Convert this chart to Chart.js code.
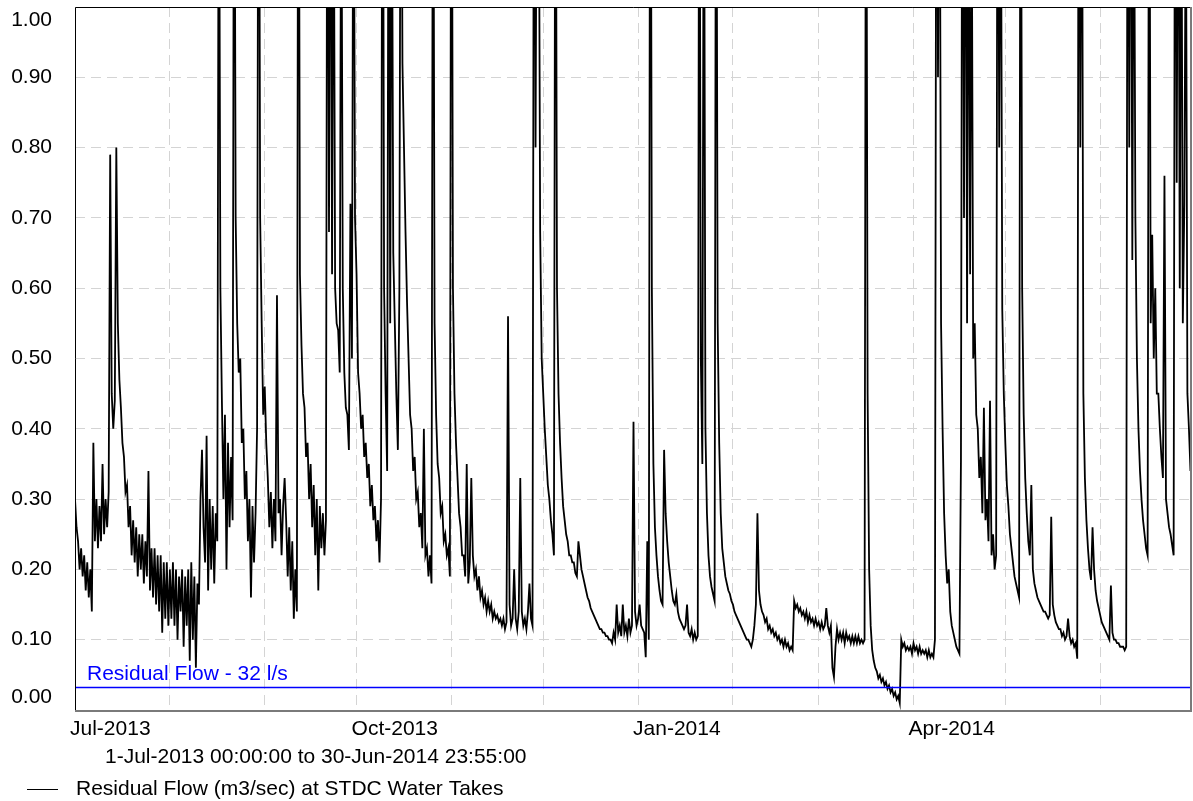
<!DOCTYPE html>
<html>
<head>
<meta charset="utf-8">
<script src="https://cdn.jsdelivr.net/npm/chart.js@4.4.1/dist/chart.umd.min.js"></script>
<style>
  html, body { margin: 0; padding: 0; background: #fff; }
  canvas { display: block; }
</style>
</head>
<body>
<canvas id="flowChart" width="1193" height="801"></canvas>
<script>
// day offsets from 1-Jul-2013 for the first of each month
const monthStartDays = [0, 31, 62, 92, 123, 153, 184, 215, 243, 274, 304, 335]
const tickLabels = ['Jul-2013', '', '', 'Oct-2013', '', '', 'Jan-2014', '', '', 'Apr-2014', '', '']
const yTicks = [0, 0.1, 0.2, 0.3, 0.4, 0.5, 0.6, 0.7, 0.8, 0.9, 1.0]

const residualFlow = 0.032
const residualLabel = 'Residual Flow - 32 l/s'
const seriesLabel = 'Residual Flow (m3/sec) at STDC Water Takes'
const periodLabel = '1-Jul-2013 00:00:00 to 30-Jun-2014 23:55:00'

// flow in m3/sec, read at 00:00 and 12:00 each day
const julFlow = [0.30, 0.26, 0.24, 0.20, 0.23, 0.19, 0.22, 0.17, 0.21, 0.16, 0.20, 0.14, 0.38, 0.24, 0.30, 0.23, 0.29, 0.24, 0.35, 0.25, 0.30, 0.26, 0.31, 0.79, 0.45, 0.40, 0.44, 0.80, 0.55, 0.47, 0.43, 0.38, 0.36, 0.31, 0.32, 0.26, 0.29, 0.22, 0.27, 0.21, 0.26, 0.19, 0.25, 0.20, 0.25, 0.18, 0.24, 0.19, 0.34, 0.17, 0.23, 0.16, 0.23, 0.15, 0.22, 0.14, 0.22, 0.11, 0.21, 0.13, 0.21, 0.12]
const augFlow = [0.20, 0.13, 0.21, 0.12, 0.20, 0.10, 0.19, 0.14, 0.20, 0.09, 0.19, 0.12, 0.20, 0.07, 0.21, 0.10, 0.19, 0.06, 0.18, 0.15, 0.30, 0.37, 0.26, 0.21, 0.39, 0.17, 0.30, 0.20, 0.29, 0.18, 0.28, 0.24, 1.40, 0.60, 0.44, 0.30, 0.42, 0.20, 0.38, 0.26, 0.36, 0.27, 1.50, 0.70, 0.55, 0.48, 0.50, 0.38, 0.40, 0.30, 0.34, 0.24, 0.30, 0.16, 0.29, 0.21, 0.28, 0.40, 1.60, 0.70, 0.55, 0.42]
const sepFlow = [0.46, 0.38, 0.33, 0.26, 0.31, 0.23, 0.30, 0.24, 0.59, 0.28, 0.30, 0.22, 0.29, 0.33, 0.27, 0.19, 0.26, 0.17, 0.24, 0.13, 0.20, 0.14, 1.60, 0.62, 0.52, 0.45, 0.43, 0.36, 0.38, 0.30, 0.35, 0.26, 0.32, 0.22, 0.30, 0.17, 0.29, 0.23, 0.28, 0.22, 0.27, 1.50, 0.68, 1.40, 0.62, 1.30, 0.60, 0.55, 0.54, 0.48, 1.30, 0.60, 0.48, 0.43, 0.42, 0.37, 0.72, 0.50, 1.40, 0.70]
const octFlow = [0.62, 0.48, 0.45, 0.40, 0.42, 0.36, 0.38, 0.33, 0.35, 0.29, 0.32, 0.27, 0.29, 0.24, 0.27, 0.21, 0.30, 1.60, 0.60, 0.45, 0.34, 1.40, 0.55, 1.30, 0.65, 0.55, 0.45, 0.37, 0.60, 1.50, 0.92, 0.80, 0.68, 0.58, 0.50, 0.42, 0.40, 0.34, 0.36, 0.30, 0.31, 0.26, 0.28, 0.23, 0.40, 0.22, 0.23, 0.19, 0.22, 0.18, 1.50, 0.55, 0.42, 0.35, 0.33, 0.28, 0.29, 0.24, 0.25, 0.22, 0.23, 0.19]
const novFlow = [1.60, 0.60, 0.45, 0.38, 0.33, 0.28, 0.26, 0.22, 0.22, 0.19, 0.35, 0.18, 0.21, 0.33, 0.22, 0.19, 0.20, 0.17, 0.19, 0.16, 0.17, 0.15, 0.16, 0.14, 0.155, 0.14, 0.15, 0.13, 0.14, 0.13, 0.135, 0.125, 0.13, 0.12, 0.13, 0.115, 0.125, 0.56, 0.15, 0.12, 0.13, 0.20, 0.13, 0.115, 0.14, 0.33, 0.14, 0.12, 0.13, 0.115, 0.14, 0.18, 0.13, 0.12, 1.50, 0.80, 1.40, 1.30, 0.68, 0.50]
const decFlow = [0.45, 0.40, 0.36, 0.32, 0.30, 0.27, 0.25, 0.22, 1.50, 0.60, 0.45, 0.38, 0.33, 0.29, 0.27, 0.25, 0.24, 0.22, 0.22, 0.21, 0.21, 0.195, 0.19, 0.24, 0.22, 0.20, 0.19, 0.18, 0.17, 0.16, 0.155, 0.145, 0.14, 0.135, 0.13, 0.125, 0.12, 0.115, 0.115, 0.11, 0.11, 0.105, 0.105, 0.10, 0.10, 0.095, 0.11, 0.10, 0.15, 0.11, 0.12, 0.105, 0.15, 0.11, 0.12, 0.105, 0.13, 0.11, 0.12, 0.41, 0.14, 0.12]
const janFlow = [0.13, 0.15, 0.12, 0.115, 0.11, 0.075, 0.24, 0.10, 1.60, 0.60, 0.35, 0.26, 0.22, 0.19, 0.17, 0.155, 0.15, 0.37, 0.28, 0.24, 0.21, 0.19, 0.17, 0.155, 0.15, 0.165, 0.14, 0.13, 0.125, 0.12, 0.115, 0.12, 0.15, 0.11, 0.105, 0.115, 0.10, 0.11, 0.10, 0.105, 1.50, 0.50, 0.35, 1.40, 0.40, 0.28, 0.22, 0.19, 0.175, 0.165, 0.155, 1.50, 0.55, 0.38, 0.28, 0.23, 0.21, 0.19, 0.18, 0.17, 0.165, 0.155]
const febFlow = [0.15, 0.14, 0.135, 0.13, 0.125, 0.12, 0.115, 0.11, 0.105, 0.10, 0.10, 0.095, 0.09, 0.10, 0.12, 0.15, 0.28, 0.17, 0.15, 0.14, 0.135, 0.125, 0.13, 0.115, 0.12, 0.11, 0.115, 0.105, 0.11, 0.10, 0.105, 0.095, 0.10, 0.09, 0.10, 0.09, 0.095, 0.085, 0.09, 0.085, 0.155, 0.145, 0.15, 0.14, 0.145, 0.135, 0.14, 0.13, 0.14, 0.125, 0.135, 0.125, 0.13, 0.12, 0.13, 0.12]
const marFlow = [0.125, 0.115, 0.125, 0.115, 0.12, 0.145, 0.12, 0.11, 0.12, 0.06, 0.047, 0.09, 0.115, 0.10, 0.11, 0.10, 0.11, 0.095, 0.11, 0.10, 0.105, 0.095, 0.105, 0.095, 0.105, 0.095, 0.105, 0.095, 0.10, 0.095, 0.10, 1.50, 0.45, 0.20, 0.12, 0.085, 0.07, 0.06, 0.055, 0.045, 0.05, 0.04, 0.045, 0.035, 0.04, 0.03, 0.035, 0.025, 0.03, 0.02, 0.025, 0.015, 0.02, 0.01, 0.10, 0.09, 0.095, 0.085, 0.09, 0.085, 0.09, 0.08]
const aprFlow = [0.095, 0.085, 0.09, 0.08, 0.09, 0.08, 0.085, 0.08, 0.085, 0.075, 0.085, 0.075, 0.08, 0.075, 0.10, 1.50, 0.90, 1.40, 0.55, 0.40, 0.28, 0.22, 0.18, 0.20, 0.14, 0.12, 0.11, 0.10, 0.09, 0.085, 0.08, 0.355, 1.50, 0.70, 1.40, 0.55, 1.30, 0.62, 1.20, 0.50, 0.55, 0.42, 0.40, 0.33, 0.36, 0.28, 0.43, 0.27, 0.30, 0.24, 0.44, 0.22, 0.25, 0.20, 0.22, 1.50, 0.80, 1.30, 0.57, 0.45]
const mayFlow = [0.38, 0.32, 0.29, 0.25, 0.23, 0.21, 0.19, 0.18, 0.17, 0.16, 1.50, 0.60, 0.42, 0.33, 0.28, 0.24, 0.22, 0.32, 0.20, 0.18, 0.17, 0.16, 0.155, 0.15, 0.145, 0.14, 0.14, 0.135, 0.13, 0.135, 0.275, 0.15, 0.135, 0.125, 0.12, 0.115, 0.115, 0.105, 0.11, 0.10, 0.105, 0.13, 0.105, 0.095, 0.10, 0.09, 0.095, 0.073, 1.50, 0.80, 1.40, 0.45, 0.33, 0.27, 0.23, 0.20, 0.185, 0.26, 0.20, 0.17, 0.155, 0.145]
const junFlow = [0.135, 0.125, 0.12, 0.115, 0.11, 0.105, 0.10, 0.177, 0.11, 0.10, 0.10, 0.095, 0.095, 0.09, 0.09, 0.09, 0.085, 0.09, 1.50, 0.80, 1.40, 0.64, 1.30, 0.70, 0.50, 0.40, 0.34, 0.30, 0.27, 0.25, 0.23, 0.22, 1.50, 0.55, 0.676, 0.50, 0.60, 0.45, 0.45, 0.40, 0.36, 0.33, 0.76, 0.30, 0.28, 0.26, 0.25, 0.235, 0.22, 1.50, 0.75, 1.40, 0.60, 1.30, 0.55, 0.72, 1.20, 0.45, 0.40, 0.34]

const monthlyFlow = [julFlow, augFlow, sepFlow, octFlow, novFlow, decFlow, janFlow, febFlow, marFlow, aprFlow, mayFlow, junFlow]

const FONT_FAMILY = '"Liberation Sans", Arial, sans-serif'
const FONT = '21px ' + FONT_FAMILY

// each month's readings are two per day from that month's first day
const flowPoints = []
monthlyFlow.forEach((values, m) => {
  values.forEach((y, i) => {
    flowPoints.push({ x: monthStartDays[m] + i * 0.5, y })
  })
})

const residualPoints = [{ x: 0, y: residualFlow }, { x: 365, y: residualFlow }]

const chartText = {
  id: 'chartText',
  afterDraw (chart) {
    const { ctx, chartArea, scales } = chart
    ctx.save()

    // plot frame: dark on top/left, grey on bottom/right
    ctx.lineWidth = 1
    ctx.strokeStyle = '#000'
    ctx.beginPath()
    ctx.moveTo(chartArea.left + 0.5, chartArea.bottom)
    ctx.lineTo(chartArea.left + 0.5, chartArea.top + 0.5)
    ctx.lineTo(chartArea.right, chartArea.top + 0.5)
    ctx.stroke()
    ctx.strokeStyle = '#7a7a7a'
    ctx.lineWidth = 2
    ctx.beginPath()
    ctx.moveTo(chartArea.left, chartArea.bottom + 1)
    ctx.lineTo(chartArea.right - 1, chartArea.bottom + 1)
    ctx.lineTo(chartArea.right - 1, chartArea.top)
    ctx.stroke()

    ctx.font = FONT
    ctx.fillStyle = '#000'

    // y labels, pulled inside the frame at the ends
    ctx.textAlign = 'right'
    ctx.textBaseline = 'middle'
    yTicks.forEach(v => {
      let y = scales.y.getPixelForValue(v)
      y = Math.min(Math.max(y, chartArea.top + 13), chartArea.bottom - 13)
      ctx.fillText(v.toFixed(2), 52, y)
    })

    ctx.textAlign = 'left'
    ctx.textBaseline = 'alphabetic'

    ctx.fillStyle = '#0000ff'
    ctx.fillText(residualLabel, chartArea.left + 12, scales.y.getPixelForValue(residualFlow) - 8)

    ctx.fillStyle = '#000'
    ctx.fillText(periodLabel, 105, 763)

    ctx.strokeStyle = '#000'
    ctx.lineWidth = 1
    ctx.beginPath()
    ctx.moveTo(27, 789.5)
    ctx.lineTo(58, 789.5)
    ctx.stroke()
    ctx.fillText(seriesLabel, 76, 795)

    ctx.restore()
  }
}

new Chart(document.getElementById('flowChart').getContext('2d'), {
  type: 'line',
  data: {
    datasets: [
      {
        label: residualLabel,
        data: residualPoints,
        borderColor: '#0000ff',
        borderWidth: 1.5,
        pointRadius: 0,
        fill: false
      },
      {
        label: seriesLabel,
        data: flowPoints,
        borderColor: '#000000',
        borderWidth: 1.8,
        pointRadius: 0,
        tension: 0,
        fill: false
      }
    ]
  },
  options: {
    responsive: false,
    animation: false,
    devicePixelRatio: 1,
    layout: {
      padding: { top: 7, right: 1, bottom: 61, left: 0 }
    },
    scales: {
      x: {
        type: 'linear',
        min: 0,
        max: 365,
        afterBuildTicks: scale => {
          scale.ticks = monthStartDays.map(value => ({ value }))
        },
        afterFit: scale => {
          scale.height = 30
        },
        ticks: {
          autoSkip: false,
          maxRotation: 0,
          minRotation: 0,
          align: 'start',
          labelOffset: -5,
          padding: 7,
          color: '#000',
          font: { family: FONT_FAMILY, size: 21 },
          callback: (value, index) => tickLabels[index]
        },
        grid: {
          color: '#d4d4d4',
          drawTicks: false
        },
        border: {
          display: false,
          dash: [10, 6]
        }
      },
      y: {
        min: 0,
        max: 1,
        afterBuildTicks: scale => {
          scale.ticks = yTicks.map(value => ({ value }))
        },
        afterFit: scale => {
          scale.width = 75
        },
        ticks: {
          display: false
        },
        grid: {
          color: '#d4d4d4',
          drawTicks: false
        },
        border: {
          display: false,
          dash: [10, 6]
        }
      }
    },
    plugins: {
      legend: { display: false },
      tooltip: { enabled: false }
    }
  },
  plugins: [chartText]
})
</script>
</body>
</html>
